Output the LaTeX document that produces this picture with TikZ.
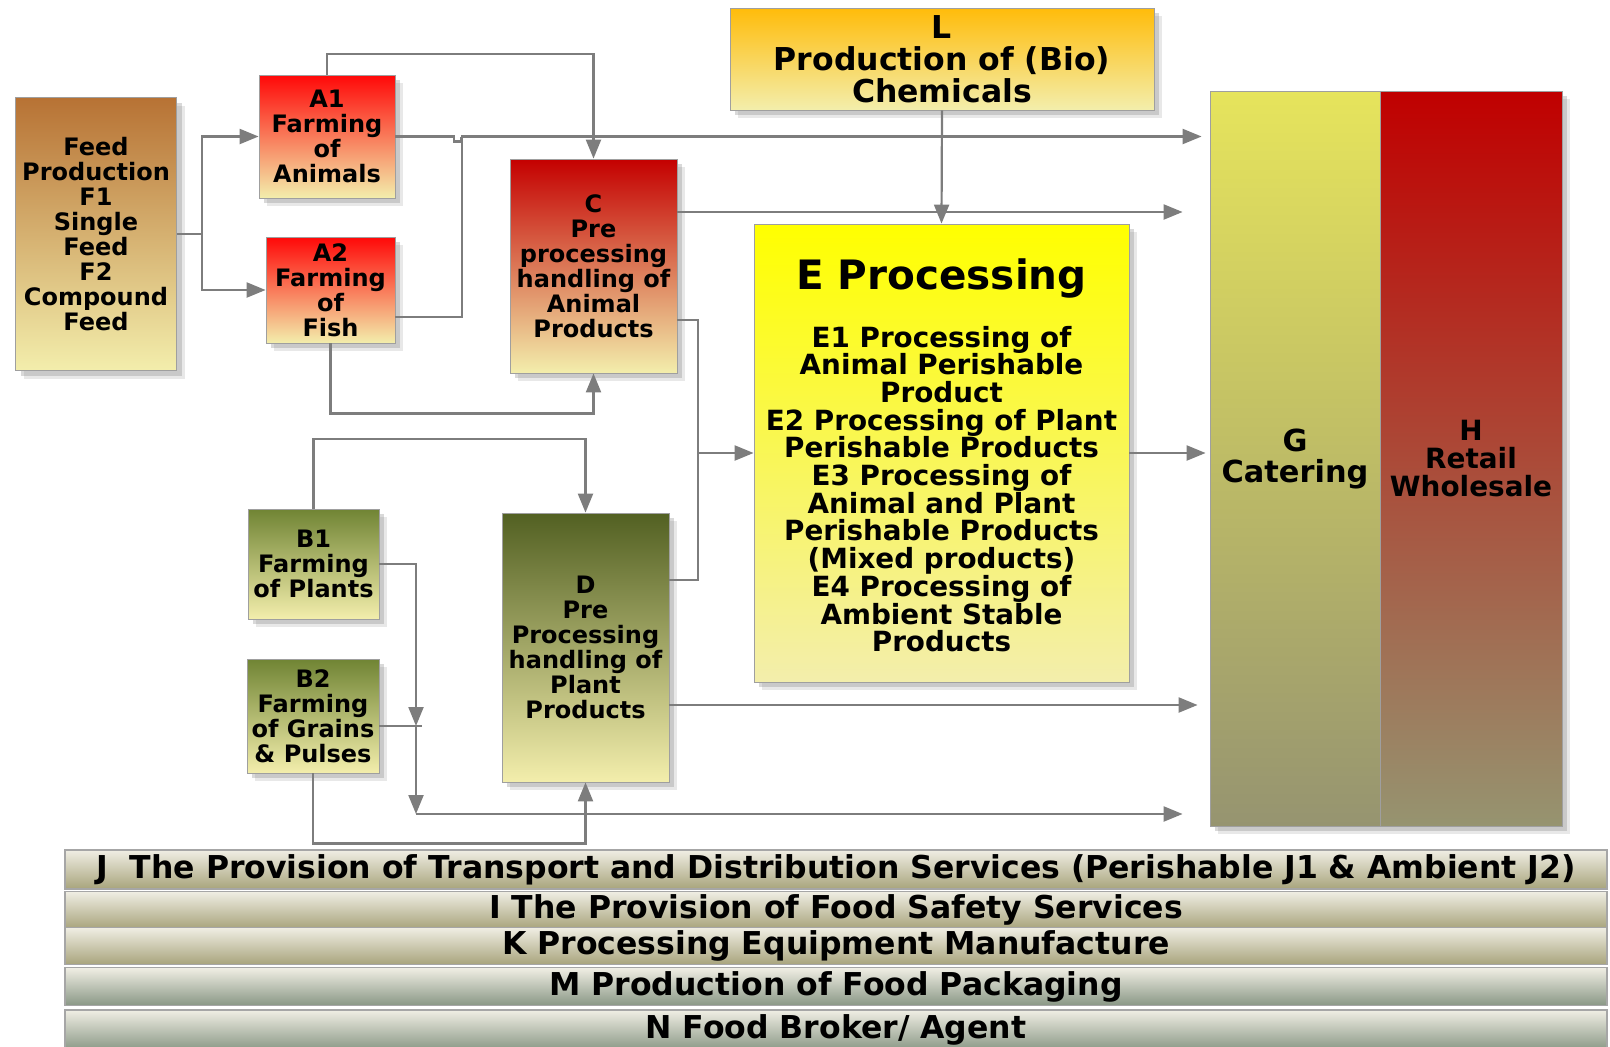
\documentclass[tikz,border=0pt]{standalone}
\usepackage{fontspec}
\setmainfont{DejaVu Sans}
\usepackage{tikz}
\usetikzlibrary{arrows.meta, positioning, calc, shadows}

\definecolor{linegray}{RGB}{125,125,125}
\definecolor{paleyellow}{RGB}{243,238,172}
\definecolor{feedtop}{RGB}{183,114,52}
\definecolor{redtop}{RGB}{255,8,8}
\definecolor{darkred}{RGB}{196,0,0}
\definecolor{orangetop}{RGB}{255,188,10}
\definecolor{yellowtop}{RGB}{255,255,0}
\definecolor{olivetop}{RGB}{112,132,52}
\definecolor{darkolive}{RGB}{82,96,34}
\definecolor{catertop}{RGB}{230,228,92}
\definecolor{retailtop}{RGB}{192,0,0}
\definecolor{khaki}{RGB}{150,148,112}
\definecolor{barlight}{RGB}{240,238,228}
\definecolor{barkhaki}{RGB}{168,164,124}
\definecolor{bargreen}{RGB}{138,152,134}

\newcommand{\stagefont}{\bfseries\fontsize{24}{25}\selectfont}
\newcommand{\chemfont}{\bfseries\fontsize{31.5}{32}\selectfont}
\newcommand{\proctitlefont}{\bfseries\fontsize{40.5}{42}\selectfont}
\newcommand{\procbodyfont}{\bfseries\fontsize{27.8}{27.7}\selectfont}
\newcommand{\caterfont}{\bfseries\fontsize{30.4}{31}\selectfont}
\newcommand{\retailfont}{\bfseries\fontsize{27.9}{27.7}\selectfont}
\newcommand{\bandfont}{\bfseries\fontsize{31.5}{32}\selectfont}

\begin{document}
\begin{tikzpicture}[x=1pt, y=-1pt,
    stage/.style={rectangle, draw=gray!75, line width=0.8pt, align=center, inner sep=2pt, font=\stagefont,
        drop shadow={shadow xshift=8pt, shadow yshift=-8pt, opacity=0.18},
        drop shadow={shadow xshift=5pt, shadow yshift=-5pt, opacity=0.3}},
    band/.style={rectangle, draw=gray!70, line width=1.2pt, minimum width=1542pt, font=\bandfont,
        top color=barlight, bottom color=#1},
    band/.default=barkhaki,
    link/.style={draw=linegray, line width=2.2pt, -{Triangle[length=19pt, width=15pt]}},
    wire/.style={draw=linegray, line width=2.2pt}
]
\useasboundingbox (0,0) rectangle (1610,1047);

% farming and feed
\node[stage, minimum width=161pt, minimum height=273pt, top color=feedtop, bottom color=paleyellow] (feed) at (96,234)
    {Feed\\Production\\F1\\Single\\Feed\\F2\\Compound\\Feed};
\node[stage, minimum width=136pt, minimum height=123pt, top color=redtop, bottom color=paleyellow] (A1) at (327,136.5)
    {A1\\Farming\\of\\Animals};
\node[stage, minimum width=129pt, minimum height=106pt, top color=redtop, bottom color=paleyellow] (A2) at (330.5,290)
    {A2\\Farming\\of\\Fish};
\node[stage, minimum width=131pt, minimum height=110pt, top color=olivetop, bottom color=paleyellow] (B1) at (313.5,564)
    {B1\\Farming\\of Plants};
\node[stage, minimum width=132pt, minimum height=114pt, top color=olivetop, bottom color=paleyellow] (B2) at (313,716)
    {B2\\Farming\\of Grains\\\& Pulses};

% pre processing
\node[stage, minimum width=167pt, minimum height=214pt, top color=darkred, bottom color=paleyellow] (C) at (593.5,266)
    {C\\Pre\\processing\\handling of\\Animal\\Products};
\node[stage, minimum width=167pt, minimum height=269pt, top color=darkolive, bottom color=paleyellow] (D) at (585.5,647.5)
    {D\\Pre\\Processing\\handling of\\Plant\\Products};

% chemicals and processing
\node[stage, minimum width=424pt, minimum height=102pt, top color=orangetop, bottom color=paleyellow, font=\chemfont] (L) at (942,59)
    {L\\Production of (Bio)\\Chemicals};
\node[stage, minimum width=375pt, minimum height=458pt, top color=yellowtop, bottom color=paleyellow] (E) at (941.5,453) {};
\node[font=\proctitlefont] (Etitle) at (941.5,278) {E Processing};
\node[font=\procbodyfont, align=center] (Ebody) at (941.5,489)
    {E1 Processing of\\Animal Perishable\\Product\\E2 Processing of Plant\\Perishable Products\\E3 Processing of\\Animal and Plant\\Perishable Products\\(Mixed products)\\E4 Processing of\\Ambient Stable\\Products};

% outlets
\node[stage, minimum width=170pt, minimum height=735pt, top color=catertop, bottom color=khaki, font=\caterfont] (G) at (1295,458.5)
    {G\\Catering};
\node[stage, minimum width=182pt, minimum height=735pt, top color=retailtop, bottom color=khaki, font=\retailfont] (H) at (1471,458.5)
    {H\\Retail\\Wholesale};

% service bands
\node[band, minimum height=39pt] (J) at (836,869.5)
    {J\ \ The Provision of Transport and Distribution Services (Perishable J1 \& Ambient J2)};
\node[band, minimum height=34pt] (I) at (836,910) {I The Provision of Food Safety Services};
\node[band, minimum height=34pt] (K) at (836,946) {K Processing Equipment Manufacture};
\node[band=bargreen, minimum height=37pt] (M) at (836,986.5) {M Production of Food Packaging};
\node[band=bargreen, minimum height=40pt] (N) at (836,1030) {N Food Broker/ Agent};

% feed to farms
\draw[link] (feed.east) -- ++(25,0) |- (A1.west);
\draw[link] (feed.east) -- ++(25,0) |- (A2.west);

% farms to pre processing
\draw[link] (A1.north) -- ++(0,-21) -| (C.north);
\draw[link] (A2.south) -- ++(0,70) -| (C.south);
\draw[link] (B1.north) -- ++(0,-70) -| (D.north);
\draw[link] (B2.south) -- ++(0,70) -| (D.south);

% animal farms straight to the outlets
\draw[wire] (A1.east) -- (454,136.5) -- ++(0,5) -- ++(7,0) -- ++(0,-5);
\draw[link, shorten >=8pt] (A2.east |- 0,317) -- (462,317) -- (462,136.5) -- (G.west |- 0,136.5);

% pre processing to processing and outlets
\coordinate (merge) at (698,453);
\draw[link, shorten >=27pt] (C.east |- 0,212) -- (G.west |- 0,212);
\draw[wire] (C.east |- 0,320) -| (merge) |- (D.east |- 0,580);
\draw[link] (merge) -- (E.west);
\draw[link, shorten >=12pt] (D.east |- 0,705) -- (G.west |- 0,705);

% chemicals into processing
\draw[link] (L.south) -- (E.north);
\draw[link, shorten >=4pt] (E.east) -- (G.west |- E.east);

% plant farms straight to the outlets
\coordinate (drop) at (416,726);
\coordinate (corner) at (416,814);
\draw[link] (B1.east) -| (drop);
\draw[wire] (B2.east |- drop) -- (422,726);
\draw[link] (drop) -- (corner);
\draw[link, shorten >=27pt] (corner) -- (G.west |- corner);

\end{tikzpicture}
\end{document}
